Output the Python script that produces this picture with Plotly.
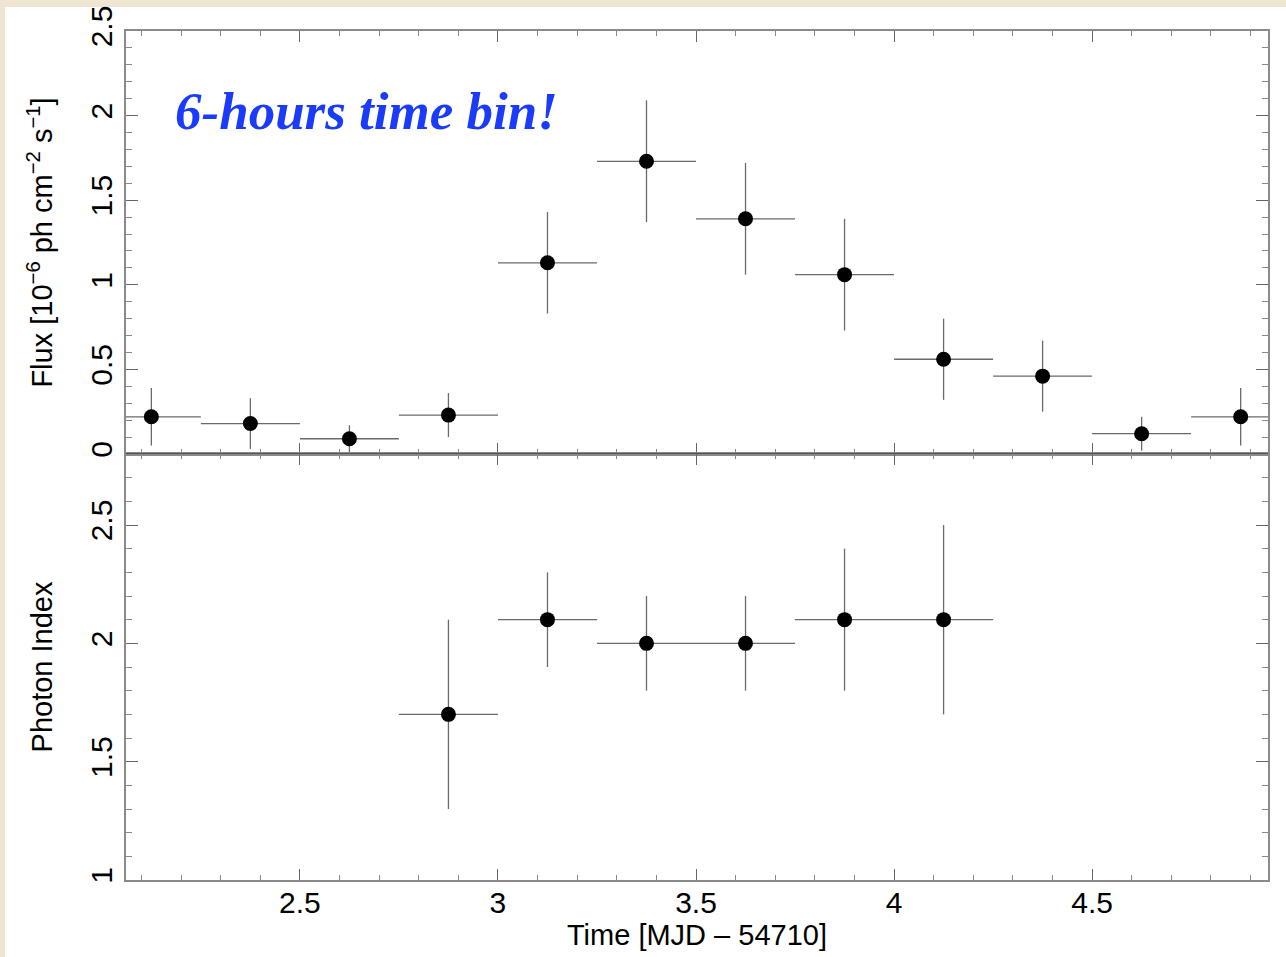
import plotly.graph_objects as go
from plotly.subplots import make_subplots

# ---- data ----
flux_time = [2.125, 2.375, 2.625, 2.875, 3.125, 3.375, 3.625, 3.875, 4.125, 4.375, 4.625, 4.875]
flux_val = [0.22, 0.18, 0.09, 0.23, 1.13, 1.73, 1.39, 1.06, 0.56, 0.46, 0.12, 0.22]
flux_err = [0.17, 0.15, 0.08, 0.13, 0.30, 0.36, 0.33, 0.33, 0.24, 0.21, 0.10, 0.17]
index_time = [2.875, 3.125, 3.375, 3.625, 3.875, 4.125]
index_val = [1.7, 2.1, 2.0, 2.0, 2.1, 2.1]
index_err = [0.4, 0.2, 0.2, 0.2, 0.3, 0.4]
half_bin = 0.125

x_ticks = [2.5, 3, 3.5, 4, 4.5]
flux_ticks = [0, 0.5, 1, 1.5, 2, 2.5]
index_ticks = [1, 1.5, 2, 2.5]

W, H = 1286, 957
L, R, T, B = 126, 18, 31, 77
plot_h = H - T - B
top_h = 454 - T
bot_h = plot_h - top_h

fig = make_subplots(rows=2, cols=1, shared_xaxes=True, vertical_spacing=0,
                    row_heights=[top_h / plot_h, bot_h / plot_h])

err_col = "#6a6a6a"
fig.add_trace(go.Scatter(
    x=flux_time, y=flux_val, mode="markers",
    marker=dict(color="black", size=15),
    error_y=dict(type="data", array=flux_err, color=err_col, thickness=1.3, width=0),
    error_x=dict(type="data", array=[half_bin] * len(flux_time), color=err_col, thickness=1.3, width=0),
    showlegend=False, cliponaxis=True), row=1, col=1)

fig.add_trace(go.Scatter(
    x=index_time, y=index_val, mode="markers",
    marker=dict(color="black", size=15),
    error_y=dict(type="data", array=index_err, color=err_col, thickness=1.3, width=0),
    error_x=dict(type="data", array=[half_bin] * len(index_time), color=err_col, thickness=1.3, width=0),
    showlegend=False, cliponaxis=True), row=2, col=1)

tick_font = dict(family="Liberation Sans, Arial, sans-serif", size=30, color="black")
title_font = dict(family="Liberation Sans, Arial, sans-serif", size=29, color="black")
axis_col = "#8a8a8a"

common_x = dict(range=[2.061, 4.944], showline=True, linecolor=axis_col, linewidth=1.5,
                mirror="allticks", ticks="inside", ticklen=11, tickwidth=1.2, tickcolor="#666",
                tickvals=x_ticks, showgrid=False, zeroline=False, automargin=False,
                minor=dict(dtick=0.1, tick0=0, ticks="inside", ticklen=5, tickwidth=1, tickcolor="#888"))
fig.update_xaxes(**common_x, row=1, col=1, showticklabels=False)
fig.update_xaxes(**common_x, row=2, col=1, showticklabels=True, tickfont=tick_font,
                 ticktext=["2.5", "3", "3.5", "4", "4.5"], ticklabelstandoff=-5,
                 title=dict(text="Time [MJD \u2013 54710]", font=title_font, standoff=4))

common_y = dict(showline=True, linecolor=axis_col, linewidth=1.5, mirror="allticks",
                ticks="inside", ticklen=12, tickwidth=1.2, tickcolor="#666", automargin=False,
                showgrid=False, zeroline=False, tickangle=-90, tickfont=tick_font,
                minor=dict(dtick=0.1, ticks="inside", ticklen=6, tickwidth=1, tickcolor="#888"))
fig.update_yaxes(**common_y, row=1, col=1, range=[0, 2.5], tickvals=flux_ticks,
                 ticktext=["0", "0.5", "1", "1.5", "2", "2.5"],
                 title=dict(text="Flux [10<sup>\u22126</sup> ph cm<sup>\u22122</sup> s<sup>\u22121</sup>]",
                            font=title_font, standoff=24))
fig.update_yaxes(**common_y, row=2, col=1, range=[1, 2.8], tickvals=index_ticks,
                 ticktext=["1", "1.5", "2", "2.5"],
                 title=dict(text="Photon Index", font=title_font, standoff=24))
fig.update_yaxes(minor=dict(tick0=0), row=1, col=1)
fig.update_yaxes(minor=dict(tick0=1), row=2, col=1)

# separator line between panels
fig.add_shape(type="line", xref="x domain", yref="y", x0=0, x1=1, y0=0, y1=0,
              line=dict(color="#555555", width=2), row=1, col=1)

fig.add_annotation(x=2.18, y=2.03, xref="x", yref="y", xanchor="left", yanchor="middle",
                   text="<b><i>6-hours time bin!</i></b>", showarrow=False,
                   font=dict(family="Liberation Serif, DejaVu Serif, serif", size=53, color="#1a3cfa"))

# white page over beige backdrop
pw = W - L - R
fig.add_shape(type="rect", xref="paper", yref="paper", layer="below",
              x0=(5 - L) / pw, x1=(W - L) / pw + 0.01,
              y0=(H - B - H) / plot_h - 0.01, y1=(H - B - 7) / plot_h,
              fillcolor="white", line=dict(width=0))

fig.update_layout(width=W, height=H, margin=dict(l=L, r=R, t=T, b=B, autoexpand=False),
                  paper_bgcolor="#f0e5d2", plot_bgcolor="white", font=title_font)

fig.write_html("out.html")
